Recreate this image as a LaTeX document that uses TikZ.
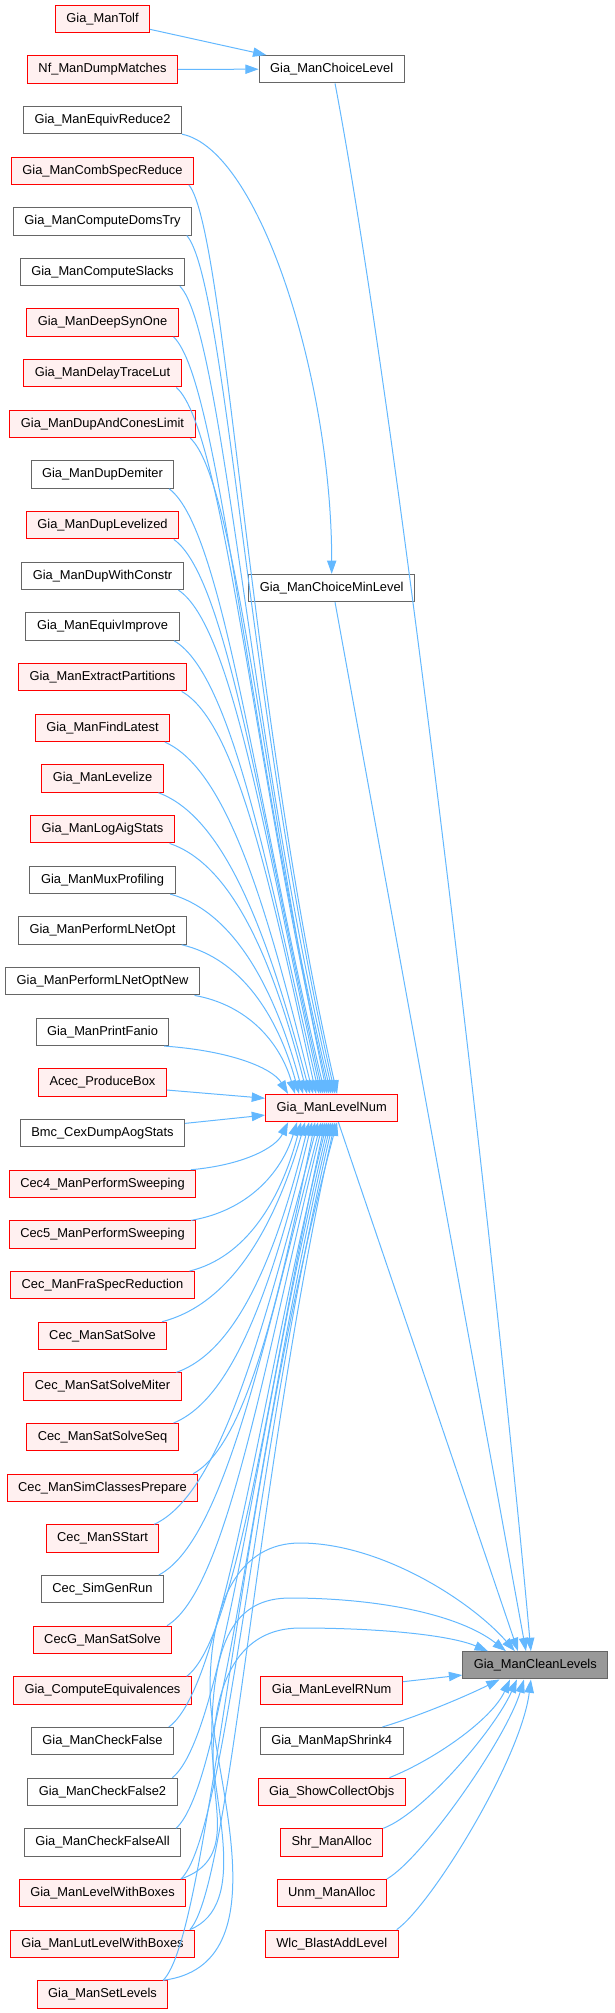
\documentclass[tikz,border=0pt]{standalone}
\usepackage{fontspec}
\setmainfont{Liberation Sans}
\usetikzlibrary{arrows.meta,calc}
\definecolor{edgec}{HTML}{63B8FF}
\definecolor{bcr}{HTML}{FF0000}
\definecolor{fcr}{HTML}{FFF0F0}
\definecolor{bcg}{HTML}{666666}
\definecolor{fcg}{HTML}{FFFFFF}
\definecolor{selb}{HTML}{999999}
\tikzset{
 box/.style={draw, line width=0.75pt, minimum height=20.5pt, inner xsep=8.3pt, inner ysep=0pt, font=\fontsize{9.65pt}{11pt}\selectfont},
 rbox/.style={box, draw=bcr, fill=fcr},
 gbox/.style={box, draw=bcg, fill=fcg},
 sbox/.style={box, draw=bcg, fill=selb},
 conn/.style={draw=edgec, line width=0.75pt, -{Triangle[length=10pt,width=7pt]}},
}
\begin{document}
\begin{tikzpicture}[x=0.75pt,y=-0.75pt]
\useasboundingbox (0,0) rectangle (614,2013);
% left column
\foreach \i/\t/\k in {
0/Gia\_ManTolf/r, 1/Nf\_ManDumpMatches/r, 2/Gia\_ManEquivReduce2/g, 3/Gia\_ManCombSpecReduce/r,
4/Gia\_ManComputeDomsTry/g, 5/Gia\_ManComputeSlacks/g, 6/Gia\_ManDeepSynOne/r, 7/Gia\_ManDelayTraceLut/r,
8/Gia\_ManDupAndConesLimit/r, 9/Gia\_ManDupDemiter/g, 10/Gia\_ManDupLevelized/r, 11/Gia\_ManDupWithConstr/g,
12/Gia\_ManEquivImprove/g, 13/Gia\_ManExtractPartitions/r, 14/Gia\_ManFindLatest/r, 15/Gia\_ManLevelize/r,
16/Gia\_ManLogAigStats/r, 17/Gia\_ManMuxProfiling/g, 18/Gia\_ManPerformLNetOpt/g, 19/Gia\_ManPerformLNetOptNew/g,
20/Gia\_ManPrintFanio/g, 21/Acec\_ProduceBox/r, 22/Bmc\_CexDumpAogStats/g, 23/Cec4\_ManPerformSweeping/r,
24/Cec5\_ManPerformSweeping/r, 25/Cec\_ManFraSpecReduction/r, 26/Cec\_ManSatSolve/r, 27/Cec\_ManSatSolveMiter/r,
28/Cec\_ManSatSolveSeq/r, 29/Cec\_ManSimClassesPrepare/r, 30/Cec\_ManSStart/r, 31/Cec\_SimGenRun/g,
32/CecG\_ManSatSolve/r, 33/Gia\_ComputeEquivalences/r, 34/Gia\_ManCheckFalse/g, 35/Gia\_ManCheckFalse2/g,
36/Gia\_ManCheckFalseAll/g, 37/Gia\_ManLevelWithBoxes/r, 38/Gia\_ManLutLevelWithBoxes/r, 39/Gia\_ManSetLevels/r}
{\node[box, draw=bc\k, fill=fc\k] (l\i) at (102.5,{18.7+50.66*\i}) {\t};}
% middle column
\node[gbox] (ch) at (331.7,69.2) {Gia\_ManChoiceLevel};
\node[gbox] (cm) at (331.7,588) {Gia\_ManChoiceMinLevel};
\node[rbox] (lvl) at (331.7,1108) {Gia\_ManLevelNum};
\foreach \i/\t/\k in {33/Gia\_ManLevelRNum/r, 34/Gia\_ManMapShrink4/g, 35/Gia\_ShowCollectObjs/r,
36/Shr\_ManAlloc/r, 37/Unm\_ManAlloc/r, 38/Wlc\_BlastAddLevel/r}
{\node[box, draw=bc\k, fill=fc\k] (m\i) at (331.7,{18.7+50.66*\i}) {\t};}
% right
\node[sbox] (cl) at (535.3,1665.3) {Gia\_ManCleanLevels};

% edges to ChoiceLevel
\draw[conn] ([yshift=-8pt]l0.east) -- ([xshift=5.8pt]ch.north west);
\draw[conn] (l1.east) -- (ch.west);
\draw[conn] (l2.south east) .. controls (260,150) and (331.7,380) .. (cm.north);

% upper fan into LevelNum
\foreach \i/\ex in {3/337,4/335,5/333,6/331,7/329,8/327,9/325,10/323,11/321,12/319,13/316,14/313,15/310,16/307,17/303,18/299,19/295,20/288}{
 \pgfmathsetmacro\dx{(\ex-265)*0.75}
 \draw[conn] let \p1=([xshift=-4pt]l\i.south east), \p2=([xshift=\dx pt]lvl.north west), \n1={min(abs(\y2-\y1)/675,1)} in
  (\p1) .. controls ({\x1+(\x2-\x1)*(0.55-0.3*\n1)},{\y1+(\y2-\y1)*(0.1-0.05*\n1)}) and ({\x1+(\x2-\x1)*(0.9-0.5*\n1)},{\y2-(\y2-\y1)*(0.55-0.12*\n1)}) .. (\p2);
}
% lower fan into LevelNum
\foreach \i/\ex in {23/288,24/297,25/301,26/305,27/309,28/312,29/315,30/318,31/321,32/323,33/325,34/327,35/329,36/331,37/333,38/335,39/337}{
 \pgfmathsetmacro\dx{(\ex-265)*0.75}
 \draw[conn] let \p1=([xshift=-4pt]l\i.north east), \p2=([xshift=\dx pt]lvl.south west), \n1={min(abs(\y2-\y1)/675,1)} in
  (\p1) .. controls ({\x1+(\x2-\x1)*(0.55-0.3*\n1)},{\y1+(\y2-\y1)*(0.1-0.05*\n1)}) and ({\x1+(\x2-\x1)*(0.9-0.5*\n1)},{\y2-(\y2-\y1)*(0.55-0.12*\n1)}) .. (\p2);
}
\draw[conn] ([yshift=-5.6pt]l21.east) -- ([yshift=7.3pt]lvl.west);
\draw[conn] ([yshift=7.4pt]l22.east) -- ([yshift=-5.3pt]lvl.west);

% into CleanLevels from above
\draw[conn] ([xshift=2.5pt]ch.south) .. controls (395,400) and (490,1200) .. ([xshift=51.5pt]cl.north west);
\draw[conn] ([xshift=2.5pt]cm.south) -- ([xshift=47.8pt]cl.north west);
\draw[conn] ([xshift=5pt]lvl.south) -- ([xshift=41.8pt]cl.north west);
% arcs from bottom-left nodes
\draw[conn] ([xshift=-4pt]l37.north east) .. controls (235,1860) and (213,1810) .. (213,1760)
  .. controls (213,1680) and (240,1628) .. (300,1628) .. controls (380,1628) and (450,1635) .. ([xshift=19.3pt]cl.north west);
\draw[conn] ([xshift=-4pt]l38.north east) .. controls (250,1905) and (211.7,1800) .. (211.7,1740)
  .. controls (211.7,1640) and (235,1598) .. (290,1598) .. controls (380,1598) and (460,1615) .. ([xshift=32.8pt]cl.north west);
\draw[conn] ([xshift=-4pt]l39.north east) .. controls (285,1965) and (210,1770) .. (210,1690)
  .. controls (210,1600) and (240,1543) .. (300,1543) .. controls (380,1543) and (470,1600) .. ([xshift=39.5pt]cl.north west);
% middle column into CleanLevels
\draw[conn] ([yshift=6.6pt]m33.east) -- ([yshift=-7.3pt]cl.west);
\draw[conn] ([xshift=-16pt]m34.north east) .. controls +(40,-12) and +(-30,15) .. ([xshift=28pt]cl.south west);
\draw[conn] ([xshift=-12.3pt]m35.north east) .. controls +(45,-18) and +(-18,40) .. ([xshift=35.8pt]cl.south west);
\draw[conn] (m36.north east) .. controls +(40,-15) and +(-22,50) .. ([xshift=41pt]cl.south west);
\draw[conn] (m37.north east) .. controls +(35,-20) and +(-18,60) .. ([xshift=46.3pt]cl.south west);
\draw[conn] ([xshift=-1.5pt]m38.north east) .. controls +(35,-25) and +(-10,80) .. ([xshift=51.5pt]cl.south west);
\end{tikzpicture}
\end{document}
